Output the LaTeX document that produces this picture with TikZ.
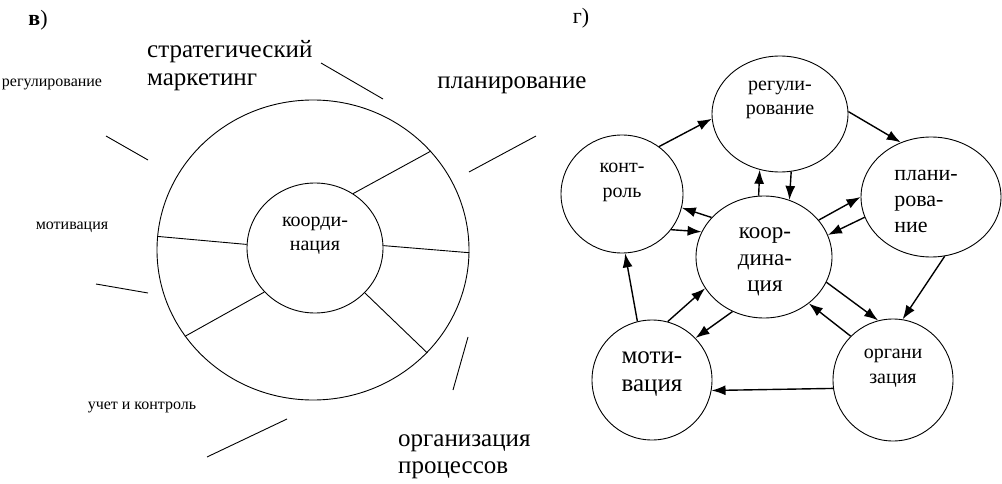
\documentclass[tikz,border=0pt]{standalone}
\usepackage{fontspec}
\setmainfont{Liberation Serif}
\usetikzlibrary{arrows.meta,shapes.geometric}
\newcommand{\fsz}[2]{\fontsize{#1pt}{#2pt}\selectfont}
\tikzset{
  ring/.style={draw, ellipse, line width=0.9pt, inner sep=0pt},
  bubble/.style={draw, ellipse, line width=0.9pt, inner sep=0pt},
  lbl/.style={inner sep=0pt, align=center},
  spoke/.style={line width=0.9pt},
  flow/.style={-{Latex[length=14pt,width=10pt]}, line width=1.4pt},
}

\begin{document}
\begin{tikzpicture}[x=1pt, y=-1pt]
        \useasboundingbox (0,0) rectangle (1002,484);
        % left scheme
        \node[lbl, font=\fsz{22}{26}] (tagv) at (38,20){\textbf{в})};
        \node[ring, minimum width=312pt, minimum height=300pt] (outer) at (313,250){};
        \node[ring, minimum width=136pt, minimum height=130pt] (inner) at (315,248){};
        \node[lbl, font=\fsz{20}{24}] (innertxt) at (315,236){коорди-\\нация};
        \draw[spoke] (inner.55)--(outer.40); \draw[spoke] (inner.2)--(outer.-1); \draw[spoke] (inner.-42)--(outer.-42);
        \draw[spoke] (inner.221)--(outer.214); \draw[spoke] (inner.177)--(outer.175);
        \node[lbl, align=left, anchor=west, font=\fsz{25}{28}] (strat) at (147,66){стратегический\\маркетинг};
        \node[lbl, font=\fsz{25}{28}] (plantxt) at (512,85){планирование};
        \node[lbl, align=left, anchor=west, font=\fsz{25}{27}] (orgtxt) at (398,457){организация\\процессов};
        \node[lbl, font=\fsz{16}{19}] (regtxt) at (52,84){регулирование};
        \node[lbl, font=\fsz{16}{19}] (mottxt) at (72,227){мотивация};
        \node[lbl, font=\fsz{16}{19}] (ctltxt) at (142,407){учет и контроль};
        \draw[spoke] (321,63)--(383,99); \draw[spoke] (106,136)--(148,160); \draw[spoke] (96,284)--(148,293);
        \draw[spoke] (207,457)--(287,419); \draw[spoke] (469,172)--(536,136); \draw[spoke] (453,390)--(468,337);
        % right scheme
        \node[lbl, font=\fsz{22}{26}] (tagg) at (581,18){г)};
        \node[bubble, minimum width=136pt, minimum height=116pt] (reg) at (780,114){};
        \node[bubble, minimum width=122pt, minimum height=118pt] (ctrl) at (622,194){};
        \node[bubble, minimum width=140pt, minimum height=120pt] (plan) at (931,197){};
        \node[bubble, minimum width=136pt, minimum height=122pt] (coord) at (764,257){};
        \node[bubble, minimum width=120pt, minimum height=120pt] (motiv) at (652,380){};
        \node[bubble, minimum width=120pt, minimum height=122pt] (org) at (893,380){};
        \node[lbl, font=\fsz{20}{24}] at (780,100){регули-\\рование};
        \node[lbl, font=\fsz{20}{25}] at (622,182){конт-\\роль};
        \node[lbl, align=left, font=\fsz{22}{26}] at (926,201){плани-\\рова-\\ние};
        \node[lbl, font=\fsz{23}{26.5}] at (765,262){коор-\\дина-\\ция};
        \node[lbl, align=left, font=\fsz{25}{28}] at (652,374){моти-\\вация};
        \node[lbl, font=\fsz{20}{25}] at (893,368){органи\\зация};
        \draw[flow] (ctrl.52)--(reg.184);
        \draw[flow] (reg.2)--(plan.119);
        \draw[flow] (plan.283)--(org.81);
        \draw[flow] (org.188)--(motiv.350);
        \draw[flow] (motiv.104)--(ctrl.273);
        \draw[flow] (coord.95)--(reg.250);
        \draw[flow] (reg.281)--(coord.66);
        \draw[flow] (coord.34)--(plan.180);
        \draw[flow] (plan.197)--(coord.19);
        \draw[flow] (coord.143)--(ctrl.347);
        \draw[flow] (ctrl.324)--(coord.158);
        \draw[flow] (motiv.75)--(coord.208);
        \draw[flow] (coord.240)--(motiv.44);
        \draw[flow] (coord.338)--(org.104);
        \draw[flow] (org.134)--(coord.314);
      \end{tikzpicture}
\end{document}
